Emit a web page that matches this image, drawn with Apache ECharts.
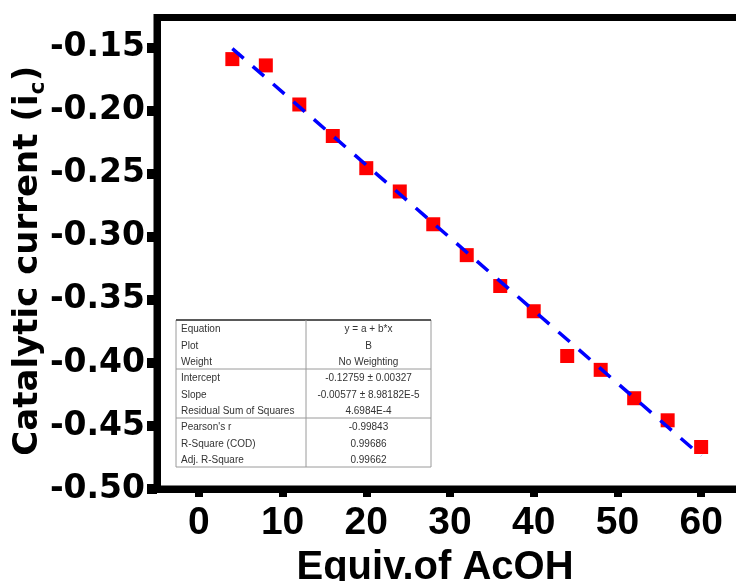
<!DOCTYPE html>
<html><head><meta charset="utf-8">
<script src="https://cdn.jsdelivr.net/npm/echarts@6/dist/echarts.min.js"></script>
<style>html,body{margin:0;padding:0;background:#fff}#c{width:736px;height:581px}</style>
</head><body><div id="c"></div><script>
// ---- data ----
const equivAcOH = [4, 8, 12, 16, 20, 24, 28, 32, 36, 40, 44, 48, 52, 56, 60];
const catalyticCurrent = [-0.159, -0.164, -0.195, -0.220, -0.2455, -0.264, -0.290, -0.3145, -0.339, -0.359, -0.3945, -0.4055, -0.428, -0.4455, -0.4667];
const fitIntercept = -0.12759;
const fitSlope = -0.00577;
const fitRangeX = [4, 60];
const xTickValues = [0, 10, 20, 30, 40, 50, 60];
const yTickValues = [-0.50, -0.45, -0.40, -0.35, -0.30, -0.25, -0.20, -0.15];
const tableLabels = ['Equation', 'Plot', 'Weight', 'Intercept', 'Slope', 'Residual Sum of Squares', "Pearson's r", 'R-Square (COD)', 'Adj. R-Square'];
const tableValues = ['y = a + b*x', 'B', 'No Weighting', '-0.12759 \u00b1 0.00327', '-0.00577 \u00b1 8.98182E-5', '4.6984E-4', '-0.99843', '0.99686', '0.99662'];
const tableGroupEnds = [3, 6];

// ---- chart ----
const fitLine = fitRangeX.map(x => [x, fitIntercept + fitSlope * x]);
const chart = echarts.init(document.getElementById('c'), null, {renderer: 'canvas'});

// table graphic
const T = {left: 176, top: 320, right: 431, bottom: 467, col: 306};
const rowH = (T.bottom - T.top) / tableLabels.length;
const tg = [];
tg.push({type: 'rect', shape: {x: T.left, y: T.top, width: T.right - T.left, height: T.bottom - T.top}, style: {fill: '#fff', stroke: '#9a9a9a', lineWidth: 1}});
tg.push({type: 'line', shape: {x1: T.left, y1: T.top, x2: T.right, y2: T.top}, style: {stroke: '#333', lineWidth: 1.5}});
tg.push({type: 'line', shape: {x1: T.col, y1: T.top, x2: T.col, y2: T.bottom}, style: {stroke: '#9a9a9a', lineWidth: 1}});
tableGroupEnds.forEach(i => {
  const y = T.top + rowH * i;
  tg.push({type: 'line', shape: {x1: T.left, y1: y, x2: T.right, y2: y}, style: {stroke: '#9a9a9a', lineWidth: 1}});
});
tableLabels.forEach((lab, i) => {
  const cy = T.top + rowH * (i + 0.5) + 1.5;
  tg.push({type: 'text', x: T.left + 5, y: cy, style: {text: lab, fill: '#333', font: '10px "Liberation Sans", Arial, sans-serif', textAlign: 'left', textVerticalAlign: 'middle'}});
  tg.push({type: 'text', x: (T.col + T.right) / 2, y: cy, style: {text: tableValues[i], fill: '#333', font: '10px "Liberation Sans", Arial, sans-serif', textAlign: 'center', textVerticalAlign: 'middle'}});
});

const option = {
  backgroundColor: '#fff',
  animation: false,
  grid: {left: 157, right: -7, top: 17.5, bottom: 92, containLabel: false, outerBoundsMode: 'none', show: true, borderColor: '#000', borderWidth: 7, backgroundColor: 'transparent'},
  xAxis: {
    type: 'value', min: -5, max: 65,
    name: 'Equiv.of AcOH', nameLocation: 'middle', nameGap: 56,
    nameTextStyle: {fontFamily: '"Liberation Sans", Arial, sans-serif', fontWeight: 'bold', fontSize: 40, color: '#000', padding: [0, 30, 0, 0]},
    axisLine: {show: true, onZero: false, lineStyle: {color: '#000', width: 7}},
    axisTick: {show: true, inside: false, length: 8, lineStyle: {color: '#000', width: 8}, customValues: xTickValues},
    axisLabel: {show: true, margin: 15, fontFamily: '"Liberation Sans", Arial, sans-serif', fontWeight: 'bold', fontSize: 39, color: '#000', customValues: xTickValues, formatter: v => String(Math.round(v))},
    splitLine: {show: false}
  },
  yAxis: {
    type: 'value', min: -0.5, max: -0.126,
    name: '{m|Catalytic current (i}{s|c}{m|)}', nameLocation: 'middle', nameGap: 108, nameRotate: 90, nameMoveOverlap: false,
    nameTextStyle: {padding: [0, 15, 0, 0], rich: {
      m: {fontFamily: '"DejaVu Sans", sans-serif', fontWeight: 'bold', fontSize: 34, color: '#000', verticalAlign: 'bottom', padding: [0, 0, 4, 0]},
      s: {fontFamily: '"DejaVu Sans", sans-serif', fontWeight: 'bold', fontSize: 22, color: '#000', verticalAlign: 'bottom'}
    }},
    axisLine: {show: true, onZero: false, lineStyle: {color: '#000', width: 7}},
    axisTick: {show: true, inside: false, length: 10, lineStyle: {color: '#000', width: 10}, customValues: yTickValues},
    axisLabel: {show: true, margin: 12, fontFamily: '"DejaVu Sans", sans-serif', fontWeight: 'bold', fontSize: 33, color: '#000', customValues: yTickValues, formatter: v => v.toFixed(2)},
    splitLine: {show: false}
  },
  graphic: {elements: tg},
  series: [
    {type: 'scatter', data: equivAcOH.map((x, i) => [x, catalyticCurrent[i]]), symbol: 'rect', symbolSize: 14, itemStyle: {color: '#ff0000', opacity: 1}, z: 2},
    {type: 'line', data: fitLine, symbol: 'none', lineStyle: {color: '#0000ff', width: 3.5, type: [15, 12]}, z: 3}
  ]
};
chart.setOption(option);
</script></body></html>
